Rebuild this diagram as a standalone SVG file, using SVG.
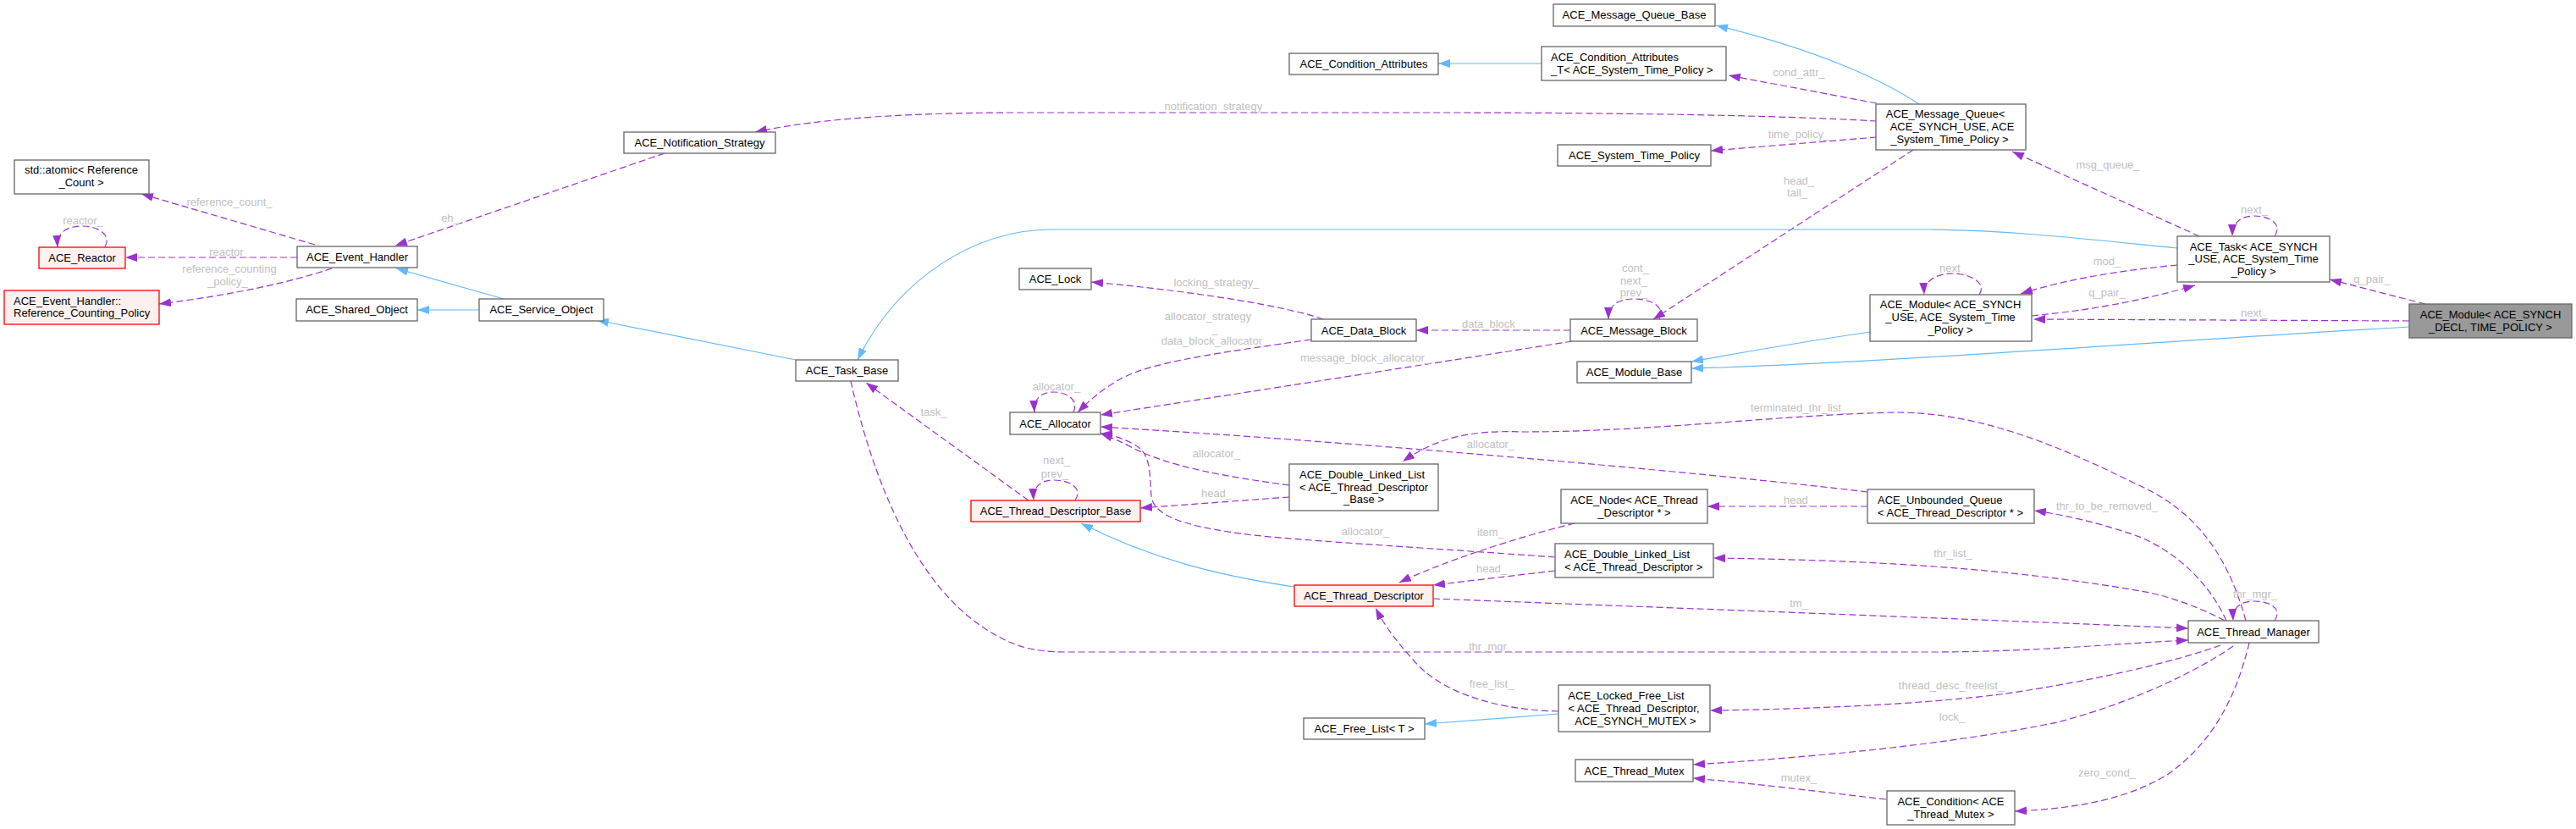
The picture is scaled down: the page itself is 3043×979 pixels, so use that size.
<svg xmlns="http://www.w3.org/2000/svg" width="3043" height="979" viewBox="0 0 3043 979">
<style>
text{font-family:"Liberation Sans",Arial,Helvetica,sans-serif;font-size:13px}
.t{text-anchor:middle;fill:#000}
.s{text-anchor:start;fill:#000}
.l{text-anchor:middle;fill:#c0c0c0}
rect{fill:#fff;stroke:#666;stroke-width:1.3}
.r rect{fill:#fff0f0;stroke:#ff0000}
.m rect{fill:#999}
.d{fill:none;stroke:#9a32cd;stroke-width:1.2;stroke-dasharray:8,4;marker-end:url(#ap)}
.b{fill:none;stroke:#63b8ff;stroke-width:1.2;marker-end:url(#ab)}
</style>
<defs>
<marker id="ap" markerUnits="userSpaceOnUse" markerWidth="14" markerHeight="10" viewBox="0 0 14 10" refX="14" refY="5" orient="auto"><path d="M0,0L14,5L0,10z" fill="#9a32cd" stroke="none"/></marker>
<marker id="ab" markerUnits="userSpaceOnUse" markerWidth="14" markerHeight="10" viewBox="0 0 14 10" refX="14" refY="5" orient="auto"><path d="M0,0L14,5L0,10z" fill="#63b8ff" stroke="none"/></marker>
</defs>
<rect x="0" y="0" width="3043" height="979" style="fill:#fff;stroke:none"/>
<g id="edges">
<path class="d" d="M372,289L167,229"/>
<path class="d" d="M351,304L148,304"/>
<path class="d" d="M392,317C343,333 283,347 188,359"/>
<path class="d" d="M124,291C132,279 118,267 97,267C78,267 67,275 68,292"/>
<path class="d" d="M785,181L467,290"/>
<path class="d" d="M2217,143C2100,136 1900,133 1700,133L1200,133C1050,133 950,143 892,156"/>
<path class="d" d="M2217,122L2042,89"/>
<path class="d" d="M2217,162L2021,178"/>
<path class="d" d="M2260,177L1953,377"/>
<path class="d" d="M1960,377C1968,362 1950,353 1930,353C1912,353 1900,360 1900,377"/>
<path class="d" d="M1855,390L1673,390"/>
<path class="d" d="M1563,377C1520,362 1420,345 1289,333"/>
<path class="d" d="M1549,401C1450,415 1380,425 1340,440C1310,452 1290,470 1273,487"/>
<path class="d" d="M1857,403C1700,428 1480,462 1300,490"/>
<path class="d" d="M1268,487C1275,472 1260,463 1245,463C1230,463 1221,470 1222,487"/>
<path class="d" d="M1215,591L1023,452"/>
<path class="d" d="M1270,591C1280,575 1262,567 1245,567C1230,567 1220,574 1221,591"/>
<path class="d" d="M1523,587L1347,600"/>
<path class="d" d="M1523,573C1440,562 1380,550 1340,530C1325,522 1312,516 1300,512"/>
<path class="d" d="M1837,658C1700,648 1560,640 1480,632C1400,622 1362,610 1360,585C1358,560 1360,535 1340,525C1325,517 1312,513 1300,512"/>
<path class="d" d="M2206,581C2050,562 1650,525 1300,504"/>
<path class="d" d="M1860,618C1790,635 1700,665 1653,688"/>
<path class="d" d="M1837,674L1693,691"/>
<path class="d" d="M2206,598L2017,598"/>
<path class="d" d="M1841,840C1760,838 1700,815 1670,780C1650,758 1635,738 1625,718"/>
<path class="d" d="M2623,762C2560,785 2450,808 2363,820C2250,834 2100,838 2020,839"/>
<path class="d" d="M2638,763C2600,790 2520,830 2430,853C2300,880 2130,895 2000,903"/>
<path class="d" d="M2228,944C2150,935 2070,925 2000,919"/>
<path class="d" d="M2657,759C2640,830 2610,880 2560,915C2510,945 2450,955 2380,958"/>
<path class="d" d="M2630,733C2610,690 2575,655 2530,635C2490,620 2440,608 2403,603"/>
<path class="d" d="M2628,733C2600,718 2570,707 2540,700C2400,675 2250,662 2024,659"/>
<path class="d" d="M1693,707C1900,715 2300,730 2585,742"/>
<path class="d" d="M1005,450C1030,560 1080,700 1180,752C1200,763 1220,770 1260,770L2280,770C2400,770 2500,760 2585,756"/>
<path class="d" d="M2687,733C2697,718 2680,710 2663,710C2648,710 2637,716 2638,733"/>
<path class="d" d="M2653,733C2630,650 2590,600 2520,570C2420,520 2330,487 2240,487C2100,490 1950,510 1800,510C1740,508 1700,515 1657,545"/>
<path class="d" d="M2598,279L2377,179"/>
<path class="d" d="M2687,279C2697,264 2680,255 2663,255C2648,255 2637,262 2637,279"/>
<path class="d" d="M2572,313C2500,320 2440,330 2387,347"/>
<path class="d" d="M2400,373C2460,367 2520,358 2593,337"/>
<path class="d" d="M2338,348C2348,333 2325,323 2307,323C2290,323 2272,330 2273,348"/>
<path class="d" d="M2865,359L2752,330"/>
<path class="d" d="M2846,379L2402,377"/>
<path class="b" d="M595,353L468,317"/>
<path class="b" d="M566,366L493,366"/>
<path class="b" d="M940,425L705,378"/>
<path class="b" d="M2572,293C2480,284 2380,272 2280,271L1243,271C1150,271 1060,330 1013,425"/>
<path class="b" d="M1821,75L1699,75"/>
<path class="b" d="M2267,123C2225,95 2150,60 2027,30"/>
<path class="b" d="M2209,392C2120,405 2060,416 1998,427"/>
<path class="b" d="M2846,386C2600,400 2200,430 1998,435"/>
<path class="b" d="M1529,693C1440,680 1360,660 1277,618"/>
<path class="b" d="M1841,843L1683,855"/>
</g>
<g id="labels">
<text class="l" x="271" y="242.5">reference_count_</text>
<text class="l" x="271" y="301.5">reactor_</text>
<text class="l" x="271" y="321.5">reference_counting</text>
<text class="l" x="269" y="336.5">_policy_</text>
<text class="l" x="98" y="264.5">reactor_</text>
<text class="l" x="532" y="261.5">eh_</text>
<text class="l" x="1437" y="129.5">notification_strategy_</text>
<text class="l" x="2125" y="89.5">cond_attr_</text>
<text class="l" x="2125" y="162.5">time_policy_</text>
<text class="l" x="2125" y="217.5">head_</text>
<text class="l" x="2123" y="231.5">tail_</text>
<text class="l" x="1932" y="320.5">cont_</text>
<text class="l" x="1930" y="335.5">next_</text>
<text class="l" x="1930" y="349.5">prev_</text>
<text class="l" x="1762" y="386.5">data_block_</text>
<text class="l" x="1437" y="337.5">locking_strategy_</text>
<text class="l" x="1427" y="377.5">allocator_strategy</text>
<text class="l" x="1435" y="392.5">_</text>
<text class="l" x="1435" y="406.5">data_block_allocator_</text>
<text class="l" x="1613" y="426.5">message_block_allocator_</text>
<text class="l" x="1248" y="460.5">allocator_</text>
<text class="l" x="1103" y="490.5">task_</text>
<text class="l" x="1248" y="547.5">next_</text>
<text class="l" x="1246" y="563.5">prev_</text>
<text class="l" x="1437" y="586.5">head_</text>
<text class="l" x="1437" y="539.5">allocator_</text>
<text class="l" x="1613" y="631.5">allocator_</text>
<text class="l" x="1761" y="528.5">allocator_</text>
<text class="l" x="1761" y="632.5">item_</text>
<text class="l" x="1762" y="675.5">head_</text>
<text class="l" x="2125" y="594.5">head_</text>
<text class="l" x="1762" y="811.5">free_list_</text>
<text class="l" x="2305" y="813.5">thread_desc_freelist_</text>
<text class="l" x="2306" y="850.5">lock_</text>
<text class="l" x="2125" y="922.5">mutex_</text>
<text class="l" x="2489" y="916.5">zero_cond_</text>
<text class="l" x="2489" y="601.5">thr_to_be_removed_</text>
<text class="l" x="2307" y="657.5">thr_list_</text>
<text class="l" x="2125" y="716.5">tm_</text>
<text class="l" x="1761" y="767.5">thr_mgr_</text>
<text class="l" x="2664" y="705.5">thr_mgr_</text>
<text class="l" x="2125" y="485.5">terminated_thr_list_</text>
<text class="l" x="2490" y="198.5">msg_queue_</text>
<text class="l" x="2663" y="251.5">next_</text>
<text class="l" x="2489" y="312.5">mod_</text>
<text class="l" x="2489" y="349.5">q_pair_</text>
<text class="l" x="2307" y="320.5">next_</text>
<text class="l" x="2802" y="333.5">q_pair_</text>
<text class="l" x="2663" y="373.5">next_</text>
</g>
<g id="n_atomic"><rect x="17" y="189" width="159" height="40"/><text class="t" x="96" y="204.5">std::atomic&lt; Reference</text><text class="t" x="96" y="219.5">_Count &gt;</text></g>
<g id="n_reactor" class="r"><rect x="46" y="292" width="102" height="25"/><text class="t" x="97" y="308.5">ACE_Reactor</text></g>
<g id="n_refpolicy" class="r"><rect x="5" y="343" width="183" height="40"/><text class="s" x="16" y="359.5">ACE_Event_Handler::</text><text class="s" x="16" y="373.5">Reference_Counting_Policy</text></g>
<g id="n_event_handler"><rect x="351" y="291" width="142" height="25"/><text class="t" x="422" y="307.5">ACE_Event_Handler</text></g>
<g id="n_shared_object"><rect x="350" y="353" width="143" height="26"/><text class="t" x="421.5" y="370">ACE_Shared_Object</text></g>
<g id="n_notification"><rect x="737" y="156" width="179" height="25"/><text class="t" x="826.5" y="172.5">ACE_Notification_Strategy</text></g>
<g id="n_service_object"><rect x="566" y="353" width="147" height="26"/><text class="t" x="639.5" y="370">ACE_Service_Object</text></g>
<g id="n_task_base"><rect x="940" y="425" width="121" height="25"/><text class="t" x="1000.5" y="441.5">ACE_Task_Base</text></g>
<g id="n_lock"><rect x="1204" y="317" width="85" height="25"/><text class="t" x="1246.5" y="333.5">ACE_Lock</text></g>
<g id="n_allocator"><rect x="1193" y="487" width="107" height="26"/><text class="t" x="1246.5" y="504.5">ACE_Allocator</text></g>
<g id="n_tdb" class="r"><rect x="1147" y="591" width="200" height="25"/><text class="t" x="1247" y="607.5">ACE_Thread_Descriptor_Base</text></g>
<g id="n_mq_base"><rect x="1835" y="5" width="191" height="26"/><text class="t" x="1930.5" y="22">ACE_Message_Queue_Base</text></g>
<g id="n_cond_attr"><rect x="1523" y="63" width="176" height="25"/><text class="t" x="1611" y="79.5">ACE_Condition_Attributes</text></g>
<g id="n_cond_attr_t"><rect x="1821" y="55" width="218" height="40"/><text class="s" x="1832" y="71.5">ACE_Condition_Attributes</text><text class="s" x="1832" y="86.5">_T&lt; ACE_System_Time_Policy &gt;</text></g>
<g id="n_stp"><rect x="1840" y="171" width="181" height="25"/><text class="t" x="1930.5" y="187.5">ACE_System_Time_Policy</text></g>
<g id="n_data_block"><rect x="1549" y="377" width="124" height="26"/><text class="t" x="1611" y="394.5">ACE_Data_Block</text></g>
<g id="n_message_block"><rect x="1855" y="377" width="150" height="26"/><text class="t" x="1930" y="394.5">ACE_Message_Block</text></g>
<g id="n_module_base"><rect x="1863" y="427" width="135" height="25"/><text class="t" x="1930.5" y="443.5">ACE_Module_Base</text></g>
<g id="n_mq"><rect x="2216" y="123" width="177" height="54"/><text class="t" x="2298" y="138.5">ACE_Message_Queue&lt;</text><text class="t" x="2306" y="153.5">ACE_SYNCH_USE, ACE</text><text class="t" x="2303" y="168.5">_System_Time_Policy &gt;</text></g>
<g id="n_module"><rect x="2209" y="348" width="191" height="55"/><text class="t" x="2304" y="363.5">ACE_Module&lt; ACE_SYNCH</text><text class="t" x="2304" y="378.5">_USE, ACE_System_Time</text><text class="t" x="2304" y="393.5">_Policy &gt;</text></g>
<g id="n_task"><rect x="2572" y="279" width="180" height="54"/><text class="t" x="2662" y="295.5">ACE_Task&lt; ACE_SYNCH</text><text class="t" x="2662" y="309.5">_USE, ACE_System_Time</text><text class="t" x="2662" y="324.5">_Policy &gt;</text></g>
<g id="n_main" class="m"><rect x="2846" y="359" width="192" height="40"/><text class="t" x="2942" y="375.5">ACE_Module&lt; ACE_SYNCH</text><text class="t" x="2942" y="390.5">_DECL, TIME_POLICY &gt;</text></g>
<g id="n_dll_base"><rect x="1523" y="548" width="176" height="55"/><text class="s" x="1535" y="564.5">ACE_Double_Linked_List</text><text class="s" x="1535" y="579.5">&lt; ACE_Thread_Descriptor</text><text class="t" x="1611" y="593.5">_Base &gt;</text></g>
<g id="n_node"><rect x="1844" y="578" width="173" height="40"/><text class="t" x="1930.5" y="594.5">ACE_Node&lt; ACE_Thread</text><text class="t" x="1930.5" y="609.5">_Descriptor * &gt;</text></g>
<g id="n_dll_td"><rect x="1837" y="642" width="187" height="40"/><text class="s" x="1848" y="658.5">ACE_Double_Linked_List</text><text class="s" x="1848" y="673.5">&lt; ACE_Thread_Descriptor &gt;</text></g>
<g id="n_td" class="r"><rect x="1529" y="691" width="164" height="25"/><text class="t" x="1611" y="707.5">ACE_Thread_Descriptor</text></g>
<g id="n_free_list"><rect x="1540" y="848" width="143" height="25"/><text class="t" x="1611.5" y="864.5">ACE_Free_List&lt; T &gt;</text></g>
<g id="n_lfl"><rect x="1841" y="809" width="179" height="55"/><text class="t" x="1921" y="825.5">ACE_Locked_Free_List</text><text class="t" x="1930" y="840.5">&lt; ACE_Thread_Descriptor,</text><text class="t" x="1932" y="855.5">ACE_SYNCH_MUTEX &gt;</text></g>
<g id="n_thread_mutex"><rect x="1861" y="897" width="139" height="26"/><text class="t" x="1930.5" y="914.5">ACE_Thread_Mutex</text></g>
<g id="n_uq"><rect x="2206" y="578" width="197" height="40"/><text class="s" x="2218" y="594.5">ACE_Unbounded_Queue</text><text class="s" x="2218" y="609.5">&lt; ACE_Thread_Descriptor * &gt;</text></g>
<g id="n_condition"><rect x="2229" y="934" width="151" height="40"/><text class="t" x="2304.5" y="950.5">ACE_Condition&lt; ACE</text><text class="t" x="2304.5" y="965.5">_Thread_Mutex &gt;</text></g>
<g id="n_thread_manager"><rect x="2585" y="733" width="154" height="26"/><text class="t" x="2662" y="750.5">ACE_Thread_Manager</text></g>
</svg>
